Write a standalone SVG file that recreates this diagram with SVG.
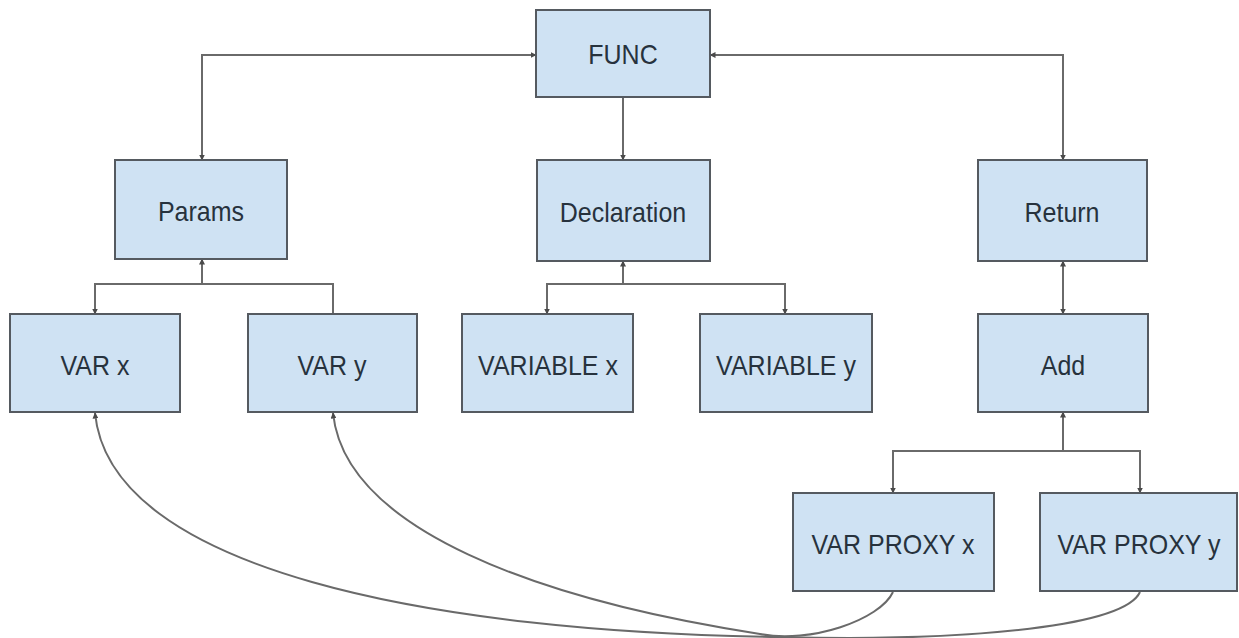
<svg xmlns="http://www.w3.org/2000/svg" width="1239" height="638" viewBox="0 0 1239 638">
<style>
.box{fill:#cfe2f3;stroke:#555a60;stroke-width:2}
.lbl{font-family:"Liberation Sans",Arial,sans-serif;font-size:25px;fill:#27323d;text-anchor:middle}
.ln{fill:none;stroke:#6a6a6a;stroke-width:2}
</style>
<defs>
<marker id="ah" viewBox="0 0 6 6" refX="5.5" refY="3" markerWidth="3" markerHeight="3" orient="auto-start-reverse" markerUnits="strokeWidth">
<path d="M0,0 L6,3 L0,6 z" fill="#4a4a4a"/>
</marker>
</defs>
<rect width="1239" height="638" fill="#ffffff"/>
<g id="connectors">
<path class="ln" d="M536,55 H202 V160" marker-start="url(#ah)" marker-end="url(#ah)"/>
<path class="ln" d="M623,97 V160" marker-end="url(#ah)"/>
<path class="ln" d="M710,55 H1063 V160" marker-start="url(#ah)" marker-end="url(#ah)"/>
<path class="ln" d="M202,259 V284 H95 V314" marker-start="url(#ah)" marker-end="url(#ah)"/>
<path class="ln" d="M202,284 H333 V314"/>
<path class="ln" d="M623,261 V284 H547 V314" marker-start="url(#ah)" marker-end="url(#ah)"/>
<path class="ln" d="M623,284 H785 V314" marker-end="url(#ah)"/>
<path class="ln" d="M1063,261 V314" marker-start="url(#ah)" marker-end="url(#ah)"/>
<path class="ln" d="M1063,412 V451 H893 V493" marker-start="url(#ah)" marker-end="url(#ah)"/>
<path class="ln" d="M1063,451 H1140 V493" marker-end="url(#ah)"/>
<path class="ln" d="M1140,592 C1125,625 980,642 780,637 C430,632 110,570 95,413" marker-end="url(#ah)"/>
<path class="ln" d="M893,592 C880,620 810,644 760,634 C540,600 345,530 333,413" marker-end="url(#ah)"/>
</g>
<g id="FUNC"><rect class="box" x="536" y="10" width="174" height="87"/><text class="lbl" transform="translate(623,64) scale(1,1.1)">FUNC</text></g>
<g id="Params"><rect class="box" x="115" y="160" width="172" height="99"/><text class="lbl" transform="translate(201,221) scale(1,1.1)">Params</text></g>
<g id="Declaration"><rect class="box" x="537" y="160" width="173" height="101"/><text class="lbl" transform="translate(623,222) scale(1,1.1)">Declaration</text></g>
<g id="Return"><rect class="box" x="978" y="160" width="169" height="101"/><text class="lbl" transform="translate(1062,222) scale(1,1.1)">Return</text></g>
<g id="VARx"><rect class="box" x="10" y="314" width="170" height="98"/><text class="lbl" transform="translate(95,375) scale(1,1.1)">VAR x</text></g>
<g id="VARy"><rect class="box" x="248" y="314" width="169" height="98"/><text class="lbl" transform="translate(332,375) scale(1,1.1)">VAR y</text></g>
<g id="VARIABLEx"><rect class="box" x="462" y="314" width="171" height="98"/><text class="lbl" transform="translate(548,375) scale(1,1.1)">VARIABLE x</text></g>
<g id="VARIABLEy"><rect class="box" x="700" y="314" width="172" height="98"/><text class="lbl" transform="translate(786,375) scale(1,1.1)">VARIABLE y</text></g>
<g id="Add"><rect class="box" x="978" y="314" width="170" height="98"/><text class="lbl" transform="translate(1063,375) scale(1,1.1)">Add</text></g>
<g id="VARPROXYx"><rect class="box" x="793" y="493" width="201" height="98"/><text class="lbl" transform="translate(893,554) scale(1,1.1)">VAR PROXY x</text></g>
<g id="VARPROXYy"><rect class="box" x="1040" y="493" width="197" height="98"/><text class="lbl" transform="translate(1139,554) scale(1,1.1)">VAR PROXY y</text></g>
</svg>
